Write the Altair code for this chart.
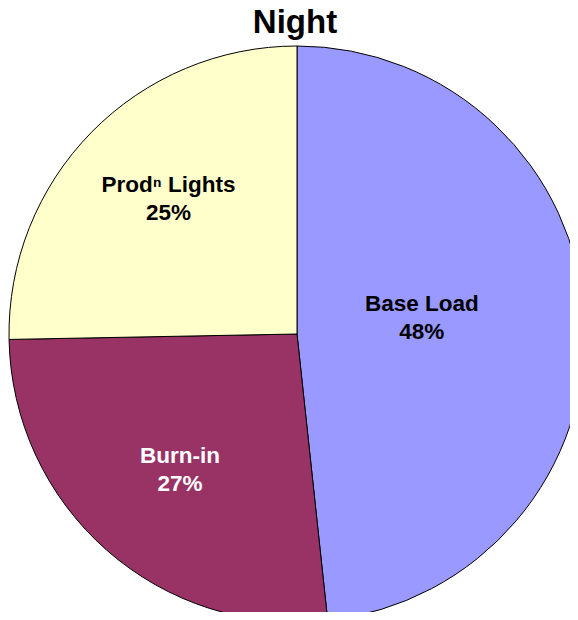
import altair as alt
import pandas as pd

categories = ["Base Load", "Burn-in", "Prodⁿ Lights"]
shares = [48.3, 26.4, 25.3]
pct_labels = ["48%", "27%", "25%"]
colors = ["#9999FF", "#993366", "#FFFFCC"]
text_colors = ["black", "white", "black"]
slice_order = [0, 1, 2]

df = pd.DataFrame({
    "category": categories,
    "share": shares,
    "pct": pct_labels,
    "order": slice_order,
})
df["label"] = df["category"] + "\n" + df["pct"]

CX, CY, R = 289, 286, 288
FONT = "Liberation Sans"

pie = alt.Chart(df).mark_arc(
    outerRadius=R, stroke="black", strokeWidth=1, x=CX, y=CY
).encode(
    theta=alt.Theta("share:Q", stack=True),
    order=alt.Order("order:Q"),
    color=alt.Color("category:N", scale=alt.Scale(domain=categories, range=colors), legend=None),
)

text_base = alt.Chart(df).transform_joinaggregate(
    total="sum(share)"
).transform_window(
    cum="sum(share)", sort=[alt.SortField("order")], frame=[None, 0]
).transform_calculate(
    mid="2*PI*(datum.cum - datum.share/2)/datum.total"
)

label_radius = {"Base Load": 126, "Burn-in": 180, "Prodⁿ Lights": 180}
label_dx = {"Base Load": -1, "Burn-in": 2, "Prodⁿ Lights": 0}
label_dy = {"Base Load": -23, "Burn-in": -13, "Prodⁿ Lights": -23}

layers = [pie]
for cat, tc in zip(categories, text_colors):
    layers.append(
        text_base.transform_filter(alt.datum.category == cat).mark_text(
            radius=label_radius[cat], dx=label_dx[cat], dy=label_dy[cat], x=CX, y=CY,
            font=FONT, fontSize=22.5, fontWeight="bold", lineBreak="\n",
            lineHeight=28, color=tc, align="center", baseline="middle",
        ).encode(
            theta=alt.Theta("mid:Q", scale=None),
            text="label:N",
        )
    )

chart = alt.layer(*layers).properties(
    width=562,
    height=564,
    padding={"left": 0, "top": 40, "right": 0, "bottom": 0},
    autosize=alt.AutoSizeParams(type="none"),
    title=alt.Title("Night", fontSize=33, font=FONT, fontWeight="bold",
                    anchor="middle", offset=4, dx=6, color="black"),
).configure_view(stroke=None)

chart.save("out.html", embed_options={"renderer": "svg", "actions": False})
